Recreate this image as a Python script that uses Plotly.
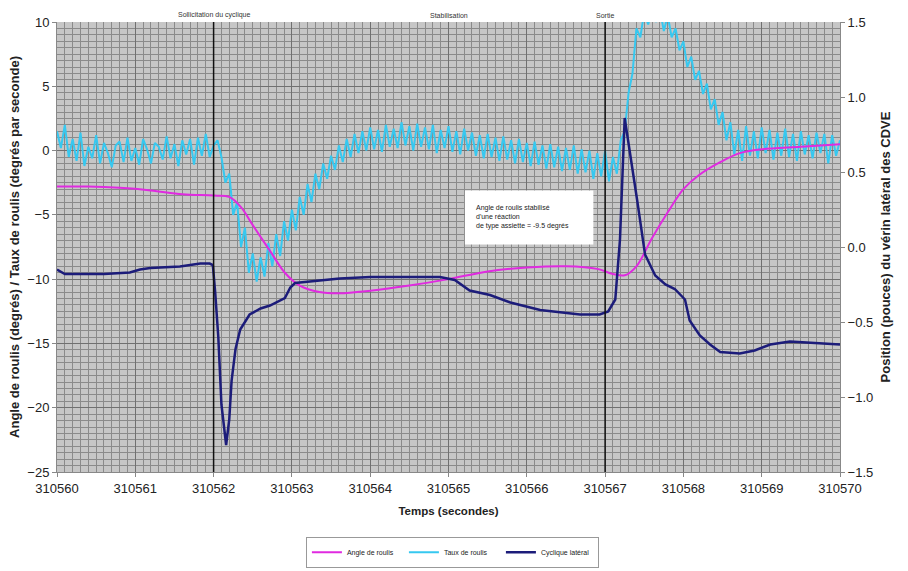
import numpy as np
import plotly.graph_objects as go

T0 = 310560

# Angle de roulis (degrees) - time offset (s) and value
angle_t = [0.00, 0.40, 0.80, 1.20, 1.60, 2.00, 2.20, 2.35, 2.50, 2.72, 2.91, 3.10, 3.35, 3.61,
           4.00, 4.50, 5.00, 5.50, 6.00, 6.50, 6.90, 7.10, 7.25, 7.40, 7.60, 7.80, 8.00, 8.20,
           8.47, 8.72, 9.00, 9.50, 10.00]
angle_v = [-2.8, -2.8, -2.9, -3.1, -3.4, -3.5, -3.6, -4.4, -5.8, -7.8, -9.5, -10.5, -11.0, -11.1,
           -10.9, -10.5, -10.0, -9.4, -9.1, -9.0, -9.2, -9.6, -9.7, -9.0, -6.8, -4.8, -3.0, -1.9,
           -0.9, -0.2, 0.1, 0.3, 0.5]

# Taux de roulis (deg/s), sampled every 0.05 s from 310560 to 310570
taux_v = [
    1.5, 0.2, 2.0, -0.5, 0.9, -0.8, 1.4, -1.2, 0.3, -0.6,
    1.2, -1.0, 0.6, -0.2, -1.3, 0.4, 0.7, -0.9, 1.0, -0.8,
    0.2, -1.1, 0.9, 0.1, -1.0, 0.6, 0.3, -0.7, 1.1, -0.6,
    0.5, -1.2, 0.8, -0.3, 0.9, -1.1, 1.0, -0.4, 1.3, -0.5,
    0.4, 0.8, -0.5, -2.5, -1.8, -5.0, -4.0, -7.5, -6.0, -9.5,
    -8.0, -10.2, -8.3, -9.8, -7.2, -9.0, -6.5, -8.2, -5.5, -7.0,
    -4.6, -6.2, -3.6, -5.0, -2.6, -4.0, -1.8, -3.0, -1.0, -2.2,
    -0.4, -1.5, 0.4, -0.9, 0.9, -0.5, 1.3, -0.2, 1.5, 0.0,
    1.8, 0.1, 1.6, -0.1, 2.0, 0.3, 1.7, 0.2, 2.2, 0.4,
    1.9, 0.0, 2.1, 0.3, 1.8, 0.1, 2.0, -0.2, 1.6, 0.2,
    1.9, -0.1, 1.5, -0.3, 1.7, 0.0, 1.4, -0.4, 1.2, -0.6,
    1.3, -0.5, 1.0, -0.8, 1.1, -0.7, 0.8, -1.0, 0.9, -0.9,
    0.6, -1.2, 0.7, -1.1, 0.4, -1.4, 0.5, -1.3, 0.3, -1.6,
    0.2, -1.5, 0.4, -1.8, 0.1, -1.7, 0.0, -2.2, -0.2, -2.0,
    0.0, -2.4, -0.5, -1.8, 0.8, 1.5, 4.5, 6.0, 9.5, 8.8,
    10.8, 9.8, 11.0, 10.0, 11.0, 9.3, 10.5, 8.8, 9.5, 7.8,
    8.5, 6.5, 7.3, 5.5, 6.2, 4.4, 5.2, 3.2, 4.0, 2.0,
    3.0, 0.8, 2.2, -0.3, 1.6, -0.8, 1.9, -0.4, 1.5, -0.6,
    1.8, -0.2, 1.6, -0.7, 1.4, -0.4, 1.7, -0.5, 1.3, -0.8,
    1.5, -0.3, 1.2, -0.6, 1.4, -0.2, 1.3, -1.0, 1.2, -0.4,
    0.8,
]
taux_t = np.round(np.arange(len(taux_v)) * 0.05, 2)

# Cyclique latéral (inches) - time offset (s) and value
cyc_t = [0.00, 0.10, 0.29, 0.60, 0.93, 1.06, 1.19, 1.57, 1.83, 1.95, 1.99, 2.02, 2.06, 2.10, 2.16,
         2.20, 2.23, 2.28, 2.34, 2.46, 2.60, 2.72, 2.91, 2.98, 3.04, 3.23, 3.61, 4.00, 4.38, 4.89,
         5.08, 5.27, 5.53, 5.79, 6.17, 6.68, 6.93, 7.04, 7.13, 7.19, 7.25, 7.33, 7.41, 7.51, 7.64,
         7.77, 7.89, 8.02, 8.08, 8.21, 8.34, 8.47, 8.72, 8.91, 9.11, 9.36, 9.62, 9.87, 10.00]
cyc_v = [-0.15, -0.18, -0.18, -0.18, -0.17, -0.15, -0.14, -0.13, -0.11, -0.11, -0.12, -0.30, -0.60,
         -1.05, -1.32, -1.15, -0.89, -0.68, -0.55, -0.45, -0.41, -0.39, -0.34, -0.27, -0.24, -0.23,
         -0.21, -0.20, -0.20, -0.20, -0.22, -0.29, -0.32, -0.37, -0.42, -0.45, -0.45, -0.43, -0.35,
         0.05, 0.86, 0.60, 0.31, -0.05, -0.19, -0.25, -0.28, -0.35, -0.49, -0.59, -0.65, -0.70,
         -0.71, -0.69, -0.65, -0.63, -0.64, -0.65, -0.65]

events_t = [2, 5, 7]
events_label = ["Sollicitation du cyclique", "Stabilisation", "Sortie"]
event_lines_t = [2, 7]

x_ticks = list(range(T0, T0 + 11))
note_text = ("Angle de roulis stabilisé<br>d'une réaction<br>"
             "de type assiette = -9.5 degrés")

FONT = "Liberation Sans, Arial, sans-serif"

fig = go.Figure()
fig.add_trace(go.Scatter(x=[T0 + t for t in taux_t], y=taux_v, mode="lines",
                         name="Taux de roulis", line=dict(color="#36c8f0", width=2),
                         legendrank=2))
fig.add_trace(go.Scatter(x=[T0 + t for t in angle_t], y=angle_v, mode="lines",
                         name="Angle de roulis", line=dict(color="#e02ae0", width=2, shape="spline"),
                         legendrank=1))
fig.add_trace(go.Scatter(x=[T0 + t for t in cyc_t], y=cyc_v, mode="lines", yaxis="y2",
                         name="Cyclique latéral", line=dict(color="#1c1c7a", width=2.5),
                         legendrank=3))

for t in event_lines_t:
    fig.add_shape(type="line", xref="x", yref="paper", x0=T0 + t, x1=T0 + t, y0=0, y1=1,
                  line=dict(color="#111111", width=1.5), layer="above")

for t, lab in zip(events_t, events_label):
    fig.add_annotation(x=T0 + t, y=1, xref="x", yref="paper", yanchor="bottom", text=lab,
                       showarrow=False, font=dict(size=7, color="#333333", family=FONT), yshift=1)

fig.add_shape(type="rect", xref="x", yref="y", x0=T0 + 5.21, x1=T0 + 6.85, y0=-7.3, y1=-3.1,
              fillcolor="white", line=dict(width=0), layer="above")
fig.add_annotation(x=T0 + 5.32, y=-5.2, xref="x", yref="y", xanchor="left", align="left",
                   text=note_text, showarrow=False,
                   font=dict(size=7, color="#222222", family=FONT))

fig.update_layout(
    width=908, height=571,
    margin=dict(l=57, r=68, t=22, b=99),
    paper_bgcolor="white", plot_bgcolor="#c6c6c6",
    font=dict(family=FONT, color="#222222"),
    showlegend=True,
    legend=dict(orientation="h", x=0.505, xanchor="center", yref="container", y=0.06,
                yanchor="top", entrywidth=52, entrywidthmode="pixels",
                font=dict(size=7, family=FONT), bordercolor="#999999", borderwidth=1,
                bgcolor="white", itemwidth=30),
    xaxis=dict(range=[T0, T0 + 10], tickvals=x_ticks, ticktext=[str(v) for v in x_ticks],
               automargin=False,
               showgrid=True, gridcolor="#707070", gridwidth=1,
               minor=dict(dtick=0.1, showgrid=True, gridcolor="#8a8a8a", gridwidth=1),
               zeroline=False, ticks="outside", ticklen=4, tickcolor="#888888",
               tickfont=dict(size=13), showline=True, linecolor="#888888",
               title=dict(text="<b>Temps (secondes)</b>", font=dict(size=11.5), standoff=12)),
    yaxis=dict(range=[-25, 10], dtick=5, showgrid=True, gridcolor="#707070", gridwidth=1,
               automargin=False,
               minor=dict(dtick=0.5, showgrid=True, gridcolor="#8a8a8a", gridwidth=1),
               zeroline=False, ticks="outside", ticklen=4, tickcolor="#888888",
               tickfont=dict(size=13), showline=True, linecolor="#888888",
               title=dict(text="<b>Angle de roulis (degrés) / Taux de roulis (degrés par seconde)</b>",
                          font=dict(size=13), standoff=4)),
    yaxis2=dict(range=[-1.5, 1.5], dtick=0.5, tickformat=".1f", overlaying="y", side="right",
                automargin=False,
                showgrid=False, zeroline=False, ticks="outside", ticklen=4, tickcolor="#888888",
                tickfont=dict(size=13), showline=True, linecolor="#888888",
                title=dict(text="<b>Position (pouces) du vérin latéral des CDVE</b>",
                           font=dict(size=13), standoff=8)),
)

fig.write_html("out.html", config={"displayModeBar": False},
               post_script="document.body.style.margin='0';")
